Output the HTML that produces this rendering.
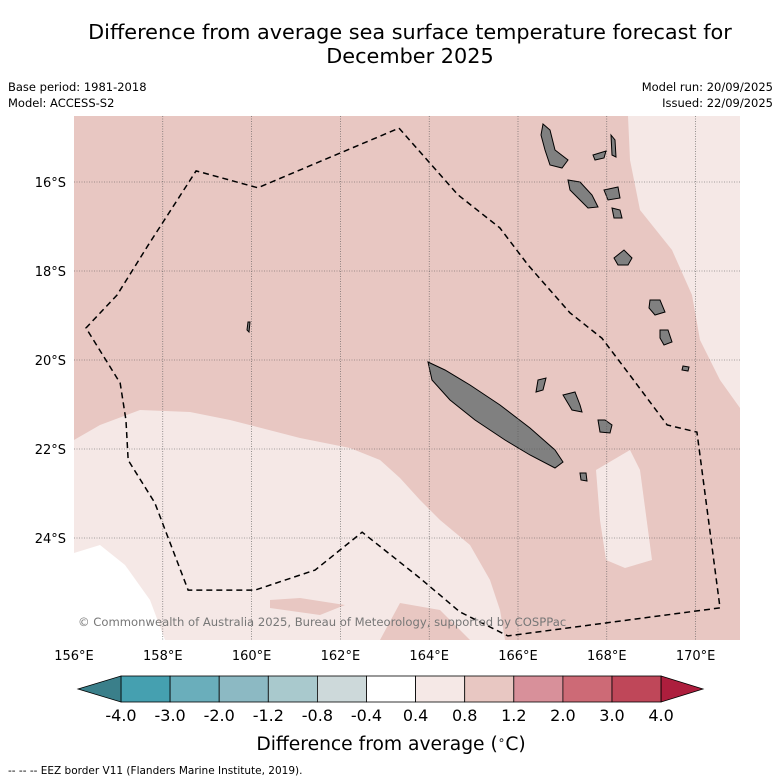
<!DOCTYPE html>
<html><head><meta charset="utf-8"><style>
body{margin:0;background:#fff;font-family:"DejaVu Sans","Liberation Sans",sans-serif;}
#wrap{position:relative;width:781px;height:781px;overflow:hidden;}
</style></head><body>
<div id="wrap">
<svg id="svg" width="781" height="781" xmlns="http://www.w3.org/2000/svg" font-family="DejaVu Sans, Liberation Sans, sans-serif">
<text x="410" y="39" font-size="20.8" text-anchor="middle">Difference from average sea surface temperature forecast for</text>
<text x="410" y="63" font-size="20.8" text-anchor="middle">December 2025</text>
<text x="8" y="91" font-size="11.5">Base period: 1981-2018</text>
<text x="8" y="107" font-size="11.5">Model: ACCESS-S2</text>
<text x="773" y="91" font-size="11.5" text-anchor="end">Model run: 20/09/2025</text>
<text x="773" y="107" font-size="11.5" text-anchor="end">Issued: 22/09/2025</text>
<defs><clipPath id="mc"><rect x="74" y="116" width="666" height="524"/></clipPath></defs>
<g id="map" clip-path="url(#mc)"></g>
<g id="axes"></g>
<g id="cbar"></g>
<text x="391" y="750" font-size="18.7" text-anchor="middle">Difference from average (<tspan font-size="12" dy="-6">∘</tspan><tspan dy="6">C)</tspan></text>
<text x="8" y="774" font-size="10.5">--  --  -- EEZ border V11 (Flanders Marine Institute, 2019).</text>
</svg>
</div>
<script>
const NS="http://www.w3.org/2000/svg";
const lonTicks=[156,158,160,162,164,166,168,170];
const latTicks=[16,18,20,22,24];
const levelLabels=["-4.0","-3.0","-2.0","-1.2","-0.8","-0.4","0.4","0.8","1.2","2.0","3.0","4.0"];
const levelColors=["#45a0b0","#6aaebb","#8cb9c3","#a9c9cd","#cdd9da","#ffffff","#f5e8e6","#e8c7c2","#d8909a","#cd6a76","#bf4759"];
const eezLon=[163.32,164.65,165.59,166.23,167.17,167.89,168.52,169.36,170.03,170.55,165.77,164.69,163.79,162.49,161.43,160.08,158.57,157.82,157.22,157.17,157.04,156.27,156.97,157.67,158.75,160.14,163.32];
const eezLat=[14.79,16.29,17.03,17.87,18.94,19.51,20.34,21.46,21.62,25.57,26.20,25.66,24.90,23.87,24.72,25.17,25.17,23.21,22.25,21.35,20.52,19.28,18.54,17.42,15.75,16.13,14.79];
const X=lon=>74+(lon-156)*44.4;
const Y=lat=>182+(lat-16)*44.5;
function mk(tag,attrs,parent){const e=document.createElementNS(NS,tag);for(const k in attrs)e.setAttribute(k,attrs[k]);parent.appendChild(e);return e;}
const map=document.getElementById('map');
const bg=mk('rect',{x:74,y:116,width:666,height:524,fill:"#e8c7c2"},map);


const regions=[
 ["light-region-east","#f5e8e6","628,116 740,116 740,408 720,380 700,340 692,295 672,250 640,210 630,160"],
 ["light-region-southwest","#f5e8e6","74,440 100,425 140,410 190,412 230,420 300,438 350,448 380,460 400,478 420,500 440,520 470,545 490,580 500,610 505,640 74,640"],
 ["white-region","#ffffff","74,553 100,545 125,565 150,600 165,640 74,640"],
 ["warm-patch-1","#e8c7c2","270,600 300,598 345,605 320,615 270,608"],
 ["warm-patch-2","#e8c7c2","380,640 400,603 440,610 470,640"],
 ["light-patch-east","#f5e8e6","596,470 630,450 640,470 652,560 625,568 606,560 600,520"]
];
regions.forEach(r=>{const p=mk('polygon',{points:r[2],fill:r[1]},map);

});
const islands=[
 "428,362 445,370 470,385 500,405 530,428 555,450 563,462 555,468 530,455 505,440 475,420 450,400 432,380",
 "543,124 550,130 555,150 568,160 562,168 550,165 545,150 541,135",
 "568,180 580,182 592,195 598,207 588,208 578,198 570,190",
 "593,155 606,151 604,158 595,160",
 "611,135 615,140 616,157 612,155",
 "604,190 618,187 620,198 608,200",
 "614,258 624,250 632,258 628,265 618,265",
 "650,300 660,300 665,312 655,315 649,308",
 "660,330 668,330 672,342 664,345 660,338",
 "563,395 575,392 580,405 582,412 572,410",
 "598,420 605,420 612,425 610,433 600,432",
 "580,473 586,473 587,481 581,480",
 "538,380 546,378 543,390 536,392",
 "248,322 250,322 249,332 247,330",
 "612,208 620,210 622,218 614,218",
 "683,366 689,367 688,371 682,370"
];
islands.forEach((pts,i)=>{const p=mk('polygon',{points:pts,fill:"#808080",stroke:"#000","stroke-width":1},map);

});
lonTicks.slice(1).forEach(l=>{const g=mk('line',{x1:X(l),x2:X(l),y1:116,y2:640,stroke:"#555","stroke-width":0.6,"stroke-dasharray":"1,1.5"},map);

});
latTicks.forEach(l=>{const g=mk('line',{x1:74,x2:740,y1:Y(l),y2:Y(l),stroke:"#555","stroke-width":0.6,"stroke-dasharray":"1,1.5"},map);

});
const eez=mk('polyline',{points:eezLon.map((l,i)=>X(l)+","+Y(eezLat[i])).join(" "),fill:"none",stroke:"#000","stroke-width":1.5,"stroke-dasharray":"6,4"},map);


const cp=mk('text',{x:78,y:626,"font-size":11.6,fill:"#777"},map);cp.textContent="© Commonwealth of Australia 2025, Bureau of Meteorology, supported by COSPPac";


const axes=document.getElementById('axes');
lonTicks.forEach(l=>{const t=mk('text',{x:X(l),y:660,"font-size":13,"text-anchor":"middle"},axes);t.textContent=l+"°E";

});
latTicks.forEach(l=>{const t=mk('text',{x:66,y:Y(l)+5,"font-size":13,"text-anchor":"end"},axes);t.textContent=l+"°S";

});
const cb=document.getElementById('cbar');
const cx0=121,cw=49.1,cy=676,ch=26;
levelColors.forEach((c,i)=>{const r=mk('rect',{x:cx0+i*cw,y:cy,width:cw,height:ch,fill:c,stroke:"#000","stroke-width":0.8},cb);

});
const lt=mk('polygon',{points:`78,${cy+ch/2} ${cx0},${cy} ${cx0},${cy+ch}`,fill:"#3a7f8a",stroke:"#000","stroke-width":0.8},cb);


const rx=cx0+levelColors.length*cw;
const rt=mk('polygon',{points:`${rx},${cy} 703,${cy+ch/2} ${rx},${cy+ch}`,fill:"#ad1e3d",stroke:"#000","stroke-width":0.8},cb);


levelLabels.forEach((s,i)=>{const t=mk('text',{x:cx0+i*cw,y:721,"font-size":16,"text-anchor":"middle"},cb);t.textContent=s;

});
</script>
</body></html>
